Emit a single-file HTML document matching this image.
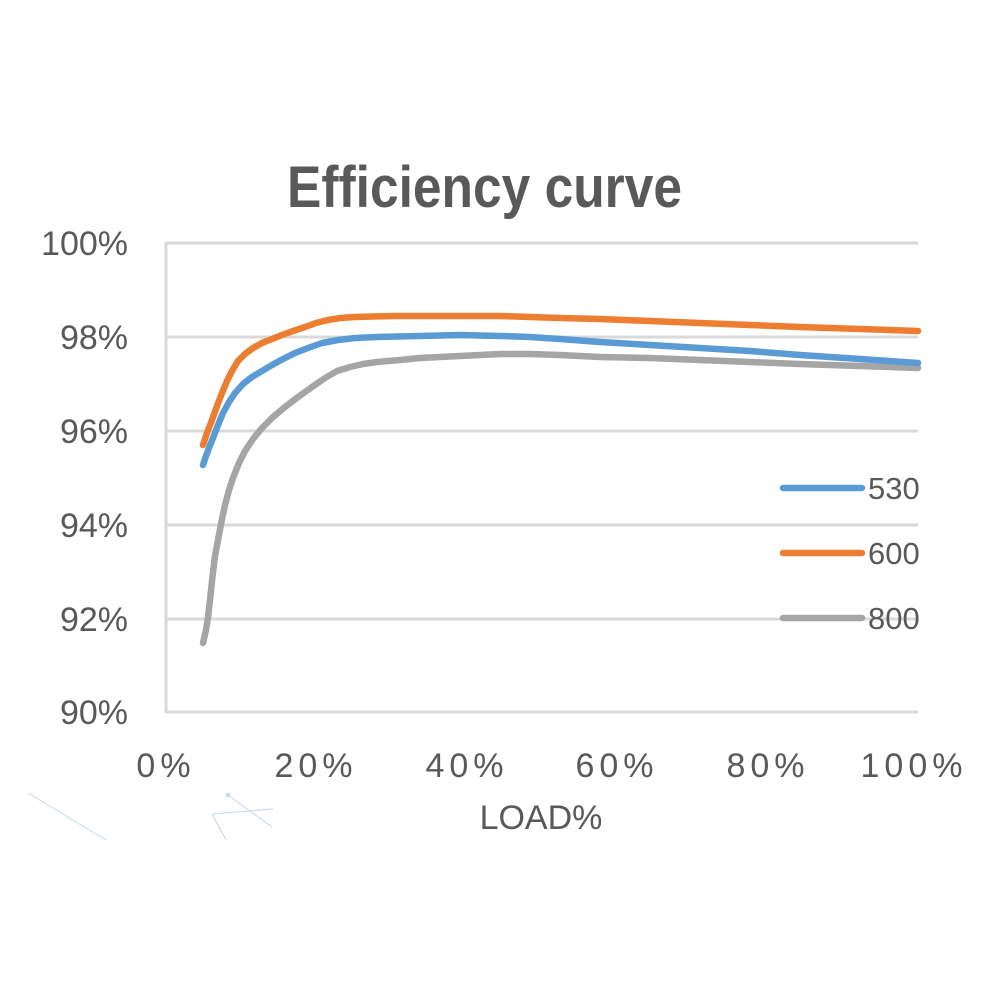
<!DOCTYPE html>
<html>
<head>
<meta charset="utf-8">
<style>
html,body{margin:0;padding:0;background:#fff;}
svg{display:block;}
text{font-family:"Liberation Sans", sans-serif;fill:#595959;}
</style>
</head>
<body>
<svg width="1000" height="1000" viewBox="0 0 1000 1000" xmlns="http://www.w3.org/2000/svg">
<rect width="1000" height="1000" fill="#fff"/>
<!-- title -->
<text x="287" y="207" font-size="58" font-weight="bold" textLength="395" lengthAdjust="spacingAndGlyphs">Efficiency curve</text>
<!-- gridlines -->
<g stroke="#d9d9d9" stroke-width="3" fill="none">
<line x1="166" y1="243" x2="918" y2="243"/>
<line x1="166" y1="337" x2="918" y2="337"/>
<line x1="166" y1="431" x2="918" y2="431"/>
<line x1="166" y1="525" x2="918" y2="525"/>
<line x1="166" y1="619" x2="918" y2="619"/>
<line x1="166" y1="712" x2="918" y2="712"/>
<line x1="166" y1="242" x2="166" y2="713"/>
</g>
<!-- y labels -->
<g font-size="34" text-anchor="end">
<text x="128" y="255">100%</text>
<text x="128" y="349">98%</text>
<text x="128" y="443">96%</text>
<text x="128" y="537">94%</text>
<text x="128" y="631">92%</text>
<text x="128" y="724">90%</text>
</g>
<!-- x labels -->
<g font-size="34" text-anchor="middle" letter-spacing="5">
<text x="166" y="777">0%</text>
<text x="316" y="777">20%</text>
<text x="467" y="777">40%</text>
<text x="617" y="777">60%</text>
<text x="768" y="777">80%</text>
<text x="914" y="777">100%</text>
</g>
<text x="541" y="829" font-size="34" text-anchor="middle">LOAD%</text>
<!-- series -->
<g fill="none" stroke-width="6.5" stroke-linecap="round" stroke-linejoin="round">
<polyline stroke="#a5a5a5" points="203,643 206,630 208,617 210,600 213,572 215,556 218,540 221,524 225,505 229,490 233,478 239,463 245,451 253,439 262,428 273,417 285,407 298,397 312,387 325,378 337,371 350,367 363,364 377,362 400,360 420,358 440,357 460,356 500,354 530,354 560,355 600,357 650,358 700,360 750,362 800,364 860,366 918,368"/>
<polyline stroke="#5b9bd5" points="203,465 206,456 209,448 213,438 218,425 223,413 229,402 235,393 243,384 252,377 262,371 272,365 283,359 295,353 308,348 322,343 338,340 355,338 377,337 420,336 460,335 500,336 530,337 560,339 600,342 650,345 700,348 750,351 800,355 860,359 918,363"/>
<polyline stroke="#ed7d31" points="203,445 207,433 212,420 217,406 222,393 227,381 232,371 238,361 245,354 253,348 262,343 272,339 282,335 293,331 305,327 316,323 328,320 340,318 355,317 393,316 430,316 460,316 500,316 530,317 560,318 600,319 650,321 700,323 750,325 800,327 860,329 918,331"/>
</g>
<!-- legend -->
<g stroke-width="6.5" stroke-linecap="round">
<line x1="783" y1="488" x2="862" y2="488" stroke="#5b9bd5"/>
<line x1="783" y1="553" x2="862" y2="553" stroke="#ed7d31"/>
<line x1="783" y1="618" x2="862" y2="618" stroke="#a5a5a5"/>
</g>
<g font-size="31">
<text x="868" y="499">530</text>
<text x="868" y="564">600</text>
<text x="868" y="629">800</text>
</g>
<!-- faint artifacts -->
<g stroke="#c5d6ee" stroke-width="1" fill="none">
<line x1="28" y1="793" x2="106" y2="840"/>
<line x1="228" y1="795" x2="272" y2="827"/>
<line x1="212" y1="814" x2="273" y2="809"/>
<line x1="212" y1="814" x2="226" y2="840"/>
</g>
<rect x="226" y="793" width="4" height="4" fill="#c5d6ee"/>
</svg>
</body>
</html>
